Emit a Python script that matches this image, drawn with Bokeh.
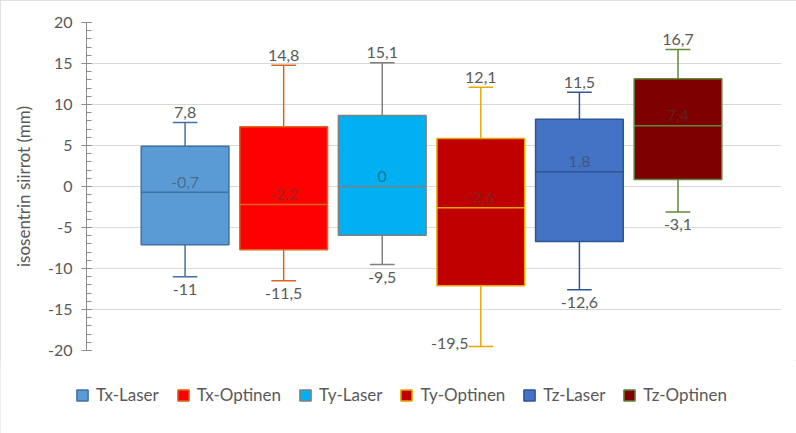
from bokeh.plotting import figure
from bokeh.layouts import column
from bokeh.models import (ColumnDataSource, Range1d, SingleIntervalTicker, Legend,
                          LegendItem, PrintfTickFormatter)
from bokeh.core.properties import value
from bokeh.transform import dodge
from bokeh.embed import file_html
from bokeh.resources import INLINE

# ---- data ----
categories = ["Tx-Laser", "Tx-Optinen", "Ty-Laser", "Ty-Optinen", "Tz-Laser", "Tz-Optinen"]
whisker_low = [-11.0, -11.5, -9.5, -19.5, -12.6, -3.1]
q1 = [-7.1, -7.7, -5.95, -12.1, -6.7, 0.85]
median = [-0.7, -2.2, 0.0, -2.6, 1.8, 7.4]
q3 = [4.9, 7.3, 8.65, 5.85, 8.2, 13.15]
whisker_high = [7.8, 14.8, 15.1, 12.1, 11.5, 16.7]

fill_colors = ["#5B9BD5", "#FF0000", "#00B0F0", "#C00000", "#4472C4", "#7F0000"]
line_colors = ["#41719C", "#D9661F", "#7F7F7F", "#E6A800", "#2F5597", "#5E8A3A"]

y_min, y_max, y_step = -20, 20, 5
y_title = "isosentrin siirrot (mm)"

FONT = "Lato"
FS = "16px"
TEXT = "#595959"
BOX_W = 0.89
CAP_W = 0.25


def fmt(v):
    return f"{v:g}".replace(".", ",")


xs = list(range(1, len(categories) + 1))
src = ColumnDataSource(dict(
    x=xs, cat=categories, lo=whisker_low, q1=q1, med=median, q3=q3, hi=whisker_high,
    fill=fill_colors, line=line_colors,
    hi_txt=[fmt(v) for v in whisker_high],
    med_txt=[fmt(v) for v in median],
))

# bottom labels: below the cap, or left of the cap when they would leave the plot
below_idx = [i for i, v in enumerate(whisker_low) if v - 2.8 >= y_min]
left_idx = [i for i, v in enumerate(whisker_low) if v - 2.8 < y_min]
src_lo = ColumnDataSource(dict(
    x=[xs[i] for i in below_idx], y=[whisker_low[i] for i in below_idx],
    t=[fmt(whisker_low[i]) for i in below_idx]))
src_lo_left = ColumnDataSource(dict(
    x=[xs[i] - CAP_W / 2 for i in left_idx], y=[whisker_low[i] for i in left_idx],
    t=[fmt(whisker_low[i]) for i in left_idx]))

p = figure(width=796, height=360, output_backend="svg", toolbar_location=None,
           x_range=Range1d(0, 7.05), y_range=Range1d(y_min, y_max),
           x_axis_location=None,
           min_border_left=86, min_border_right=15, min_border_top=22, min_border_bottom=10)
p.outline_line_color = None
p.background_fill_color = "white"
p.border_fill_color = "white"

p.xgrid.visible = False
p.ygrid.grid_line_color = "#D9D9D9"
p.ygrid.grid_line_width = 1

yax = p.yaxis[0]
yax.ticker = SingleIntervalTicker(interval=y_step, num_minor_ticks=5)
yax.formatter = PrintfTickFormatter(format="%d")
yax.axis_line_color = "#8C8C8C"
yax.major_tick_line_color = "#8C8C8C"
yax.minor_tick_line_color = "#8C8C8C"
yax.major_tick_out = 5
yax.major_tick_in = 5
yax.minor_tick_out = 0
yax.minor_tick_in = 5
yax.major_label_standoff = 9
yax.major_label_text_font = FONT
yax.major_label_text_font_size = FS
yax.major_label_text_color = TEXT
yax.axis_label = y_title
yax.axis_label_text_font = FONT
yax.axis_label_text_font_size = "17px"
yax.axis_label_text_font_style = "normal"
yax.axis_label_text_color = TEXT
yax.axis_label_standoff = 11

# whiskers
p.segment(x0="x", y0="q3", x1="x", y1="hi", source=src, line_color="line", line_width=1.5)
p.segment(x0="x", y0="q1", x1="x", y1="lo", source=src, line_color="line", line_width=1.5)
p.segment(x0=dodge("x", -CAP_W / 2), y0="hi", x1=dodge("x", CAP_W / 2), y1="hi",
          source=src, line_color="line", line_width=1.5)
p.segment(x0=dodge("x", -CAP_W / 2), y0="lo", x1=dodge("x", CAP_W / 2), y1="lo",
          source=src, line_color="line", line_width=1.5)

# boxes
p.vbar(x="x", width=BOX_W, bottom="q1", top="q3", source=src,
       fill_color="fill", line_color="line", line_width=1.5)
# medians
p.segment(x0=dodge("x", -BOX_W / 2), y0="med", x1=dodge("x", BOX_W / 2), y1="med",
          source=src, line_color="line", line_width=1.5)

# labels
common = dict(text_font=value(FONT), text_font_size=FS, text_baseline="middle")
p.text(x="x", y="hi", text="hi_txt", source=src, text_align="center",
       y_offset=-10, text_color=TEXT, **common)
p.text(x="x", y="y", text="t", source=src_lo, text_align="center",
       y_offset=13, text_color=TEXT, **common)
p.text(x="x", y="y", text="t", source=src_lo_left, text_align="right",
       y_offset=-3, text_color=TEXT, **common)
p.text(x="x", y="med", text="med_txt", source=src, text_align="center",
       y_offset=-10, text_color="#404040", text_alpha=0.55, **common)

# ---- legend strip (its own figure; proxy glyphs with no drawable coordinates) ----
nan = float("nan")
proxy_src = ColumnDataSource(dict(
    x=[nan] * len(categories), b=[nan] * len(categories), t=[nan] * len(categories),
    fill=fill_colors, line=line_colors))
leg = figure(width=796, height=73, output_backend="svg", toolbar_location=None,
             x_axis_location=None, y_axis_location=None,
             x_range=Range1d(0, 1), y_range=Range1d(0, 1), min_border=0)
leg.grid.visible = False
leg.outline_line_color = None
proxy = leg.vbar(x="x", width=0.1, bottom="b", top="t", source=proxy_src,
                 fill_color="fill", line_color="line", line_width=1.5)
items = [LegendItem(label=c, renderers=[proxy], index=i) for i, c in enumerate(categories)]
legend = Legend(items=items, orientation="horizontal", location=(75, 28),
                glyph_width=14, glyph_height=14, label_standoff=7, spacing=17,
                padding=0, margin=0, border_line_color=None, background_fill_alpha=0,
                label_text_font=FONT, label_text_font_size="17px", label_text_color=TEXT,
                label_height=15)
leg.add_layout(legend, "center")

for fig in (p, leg):
    if "frame_align" in fig.properties():
        fig.frame_align = False

layout = column(p, leg, spacing=0,
                styles={"outline": "1px solid #D9D9D9", "outline-offset": "-1px"})
open("out.html", "w").write(file_html(layout, INLINE))
